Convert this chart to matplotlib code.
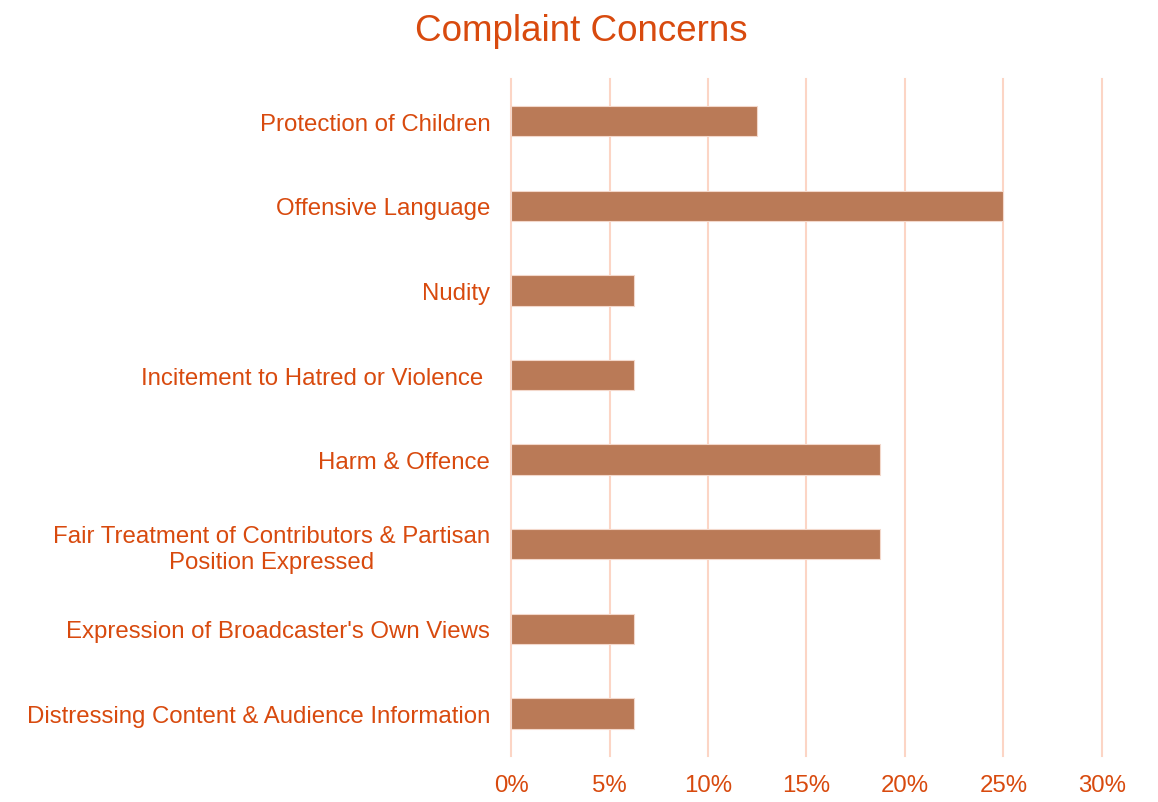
import matplotlib.pyplot as plt
from matplotlib.ticker import FuncFormatter

plt.rcParams['font.family'] = ['Liberation Sans', 'DejaVu Sans']

# data, top to bottom as in the chart
categories = [
    "Protection of Children",
    "Offensive Language",
    "Nudity",
    "Incitement to Hatred or Violence ",
    "Harm & Offence",
    "Fair Treatment of Contributors & Partisan\nPosition Expressed",
    "Expression of Broadcaster's Own Views",
    "Distressing Content & Audience Information",
]
shares = [12.5, 25.0, 6.25, 6.25, 18.75, 18.75, 6.25, 6.25]
xticks = [0, 5, 10, 15, 20, 25, 30]

TEXT = '#D84A0E'
BAR = '#BA7A57'
GRID = '#FCD5C5'

fig = plt.figure(figsize=(11.58, 8.03), dpi=100)
ax = fig.add_axes([0.4413, 0.0575, 0.5103, 0.8431])

ypos = list(range(len(categories)))[::-1]
ax.barh(ypos, shares, height=0.36, color=BAR, edgecolor='#F3D8CB', linewidth=0.8, zorder=3)

ax.set_xlim(0, 30)
ax.set_ylim(-0.5, len(categories) - 0.5)
ax.set_xticks(xticks)
ax.xaxis.set_major_formatter(FuncFormatter(lambda v, p: f"{v:.0f}%"))
ax.set_yticks(ypos)
ax.set_yticklabels(categories, multialignment='center', linespacing=1.22)

ax.grid(axis='x', color=GRID, linewidth=1.5, zorder=0)
for gl in ax.get_xgridlines():
    gl.set_clip_on(False)
for s in ax.spines.values():
    s.set_visible(False)
ax.tick_params(axis='both', length=0, labelsize=17.3, labelcolor=TEXT)
ax.tick_params(axis='y', pad=15)
ax.tick_params(axis='x', pad=13)

fig.suptitle("Complaint Concerns", x=0.502, y=0.983, fontsize=26.5, color=TEXT, va='top')

fig.savefig("out.png", dpi=100)
